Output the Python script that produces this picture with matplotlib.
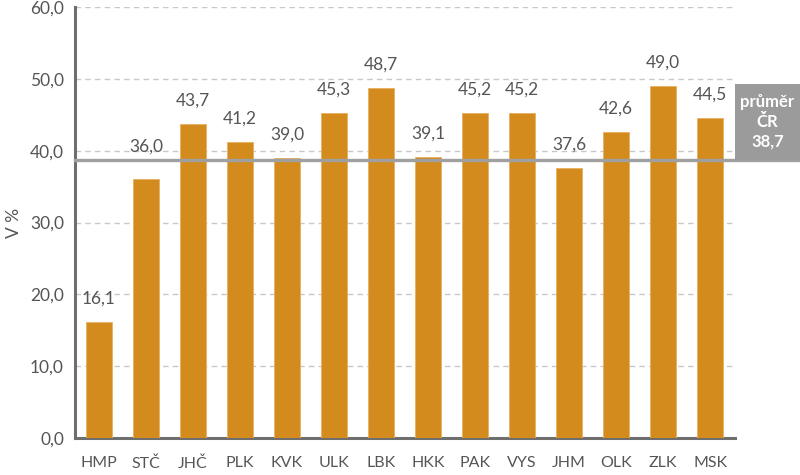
import matplotlib
matplotlib.use("Agg")
import matplotlib.pyplot as plt
import matplotlib.transforms as mtransforms
from matplotlib.patches import Rectangle

categories = ["HMP", "STČ", "JHČ", "PLK", "KVK", "ULK", "LBK", "HKK",
              "PAK", "VYS", "JHM", "OLK", "ZLK", "MSK"]
values = [16.1, 36.0, 43.7, 41.2, 39.0, 45.3, 48.7, 39.1,
          45.2, 45.2, 37.6, 42.6, 49.0, 44.5]
average = 38.7
average_label = "průměr\nČR\n38,7"
y_ticks = [0, 10, 20, 30, 40, 50, 60]

def fmt(v):
    return f"{v:.1f}".replace(".", ",")

plt.rcParams['font.family'] = ['Lato', 'DejaVu Sans']
text_color = "#555555"
bar_color = "#D38B1D"

fig = plt.figure(figsize=(8, 4.75), dpi=100)
ax = fig.add_axes([75/800, 37/475, 660/800, 431/475])

x = list(range(len(categories)))
ax.bar(x, values, width=0.56, color=bar_color, edgecolor="#E8B060",
       linewidth=0.6, zorder=3)
for xi, v in zip(x, values):
    off = 11
    if average - 4 < v < average - 2:
        off = 18  # lift label clear of the average line
    ax.annotate(fmt(v), (xi, v), xytext=(0, off), textcoords="offset points",
                ha="center", va="bottom", fontsize=12.5, color=text_color)

ax.set_xlim(-0.51, len(categories) - 0.47)
ax.set_ylim(0, 60)
ax.set_yticks(y_ticks)
ax.set_yticklabels([fmt(t) for t in y_ticks], fontsize=12.5, color=text_color)
ax.set_xticks(x)
ax.set_xticklabels(categories, fontsize=11.5, color=text_color)
ax.tick_params(axis="both", length=0)
ax.tick_params(axis="x", pad=13)
ax.tick_params(axis="y", pad=8)
ax.set_ylabel("V %", fontsize=12.5, color=text_color, labelpad=6)

ax.grid(axis="y", color="#C8C8C8", linestyle=(0, (4, 3)), linewidth=1, zorder=0)
ax.set_axisbelow(True)
for s in ["top", "right"]:
    ax.spines[s].set_visible(False)
for s in ["left", "bottom"]:
    ax.spines[s].set_color("#6E6E6E")
    ax.spines[s].set_linewidth(2.2)

# average line extending to figure edge
trans = mtransforms.blended_transform_factory(fig.transFigure, ax.transData)
ax.plot([75/800, 1.0], [average, average], transform=trans, color="#A0A0A0",
        linewidth=2.4, clip_on=False, zorder=4)
box = Rectangle((735/800, average), 65/800, 10.6, transform=trans,
                facecolor="#9B9B9B", edgecolor="none", clip_on=False, zorder=5)
ax.add_patch(box)
ax.text(767.5/800, average + 5.3, average_label, transform=trans,
        ha="center", va="center", color="white", fontsize=12,
        fontweight="bold", linespacing=1.3, zorder=6)

fig.savefig("out.png", dpi=100)
